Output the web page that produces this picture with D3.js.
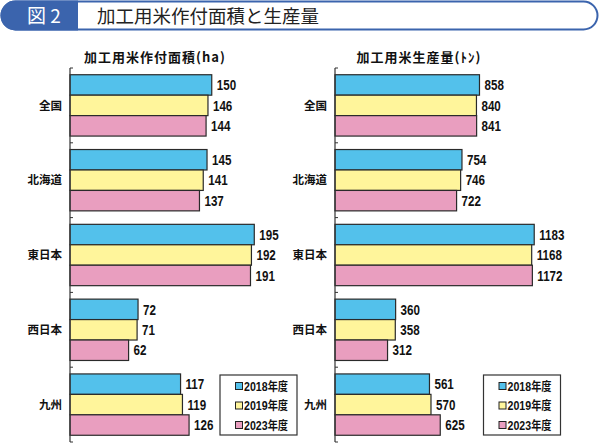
<!DOCTYPE html>
<html><head><meta charset="utf-8">
<script src="https://cdn.jsdelivr.net/npm/d3@7"></script>
<style>
html,body{margin:0;padding:0;background:#fff;}
svg{display:block;}
.cjk{font-family:"Noto Sans CJK JP","Noto Sans",sans-serif;}
.num{font-family:"Liberation Sans","Arial",sans-serif;font-weight:bold;}
</style>
</head><body>
<script>
const categories = ["全国","北海道","東日本","西日本","九州"];
const seriesNames = ["2018年度","2019年度","2023年度"];
const seriesColors = ["#53c1eb","#fff59b","#e99ebf"];
const areaValues = [
  [150,146,144],
  [145,141,137],
  [195,192,191],
  [72,71,62],
  [117,119,126]
];
const prodValues = [
  [858,840,841],
  [754,746,722],
  [1183,1168,1172],
  [360,358,312],
  [561,570,625]
];
const mainTitle = "加工用米作付面積と生産量";
const figLabel = "図 2";
const areaTitle = "加工用米作付面積(ha)";
const prodTitle = "加工用米生産量(ﾄﾝ)";

const W = 600, H = 445;
const svg = d3.select("body").append("svg").attr("width", W).attr("height", H);

// header
const hdrColor = "#3b64ad";
svg.append("rect").attr("x",1.5).attr("y",1.5).attr("width",596).attr("height",28)
  .attr("rx",14).attr("fill","#fff").attr("stroke",hdrColor).attr("stroke-width",2);
svg.append("path").attr("d","M78,0.5 H15.5 A15,15 0 0 0 15.5,30.5 H78 Z").attr("fill",hdrColor);
svg.append("text").attr("class","cjk").attr("x",27).attr("y",23).attr("fill","#fff")
  .attr("font-size",19).text(figLabel);
svg.append("text").attr("class","cjk").attr("x",97).attr("y",23).attr("fill","#222")
  .attr("font-size",18.5).text(mainTitle);

const SX = 0.8;
function drawPanel(cfg) {
  const g = svg.append("g");
  const y = d3.scaleBand().domain(categories).range([68, 442]).paddingInner(0.18).paddingOuter(0.09);
  const ys = d3.scaleBand().domain(seriesNames).range([0, y.bandwidth()]);
  const x = d3.scaleLinear().domain([0, cfg.max]).range([cfg.x0, cfg.x1]);

  // title
  g.append("text").attr("class","cjk").attr("x",cfg.titleX).attr("y",62)
    .attr("text-anchor","middle").attr("font-size",13).attr("font-weight","bold")
    .attr("letter-spacing",1).attr("fill","#111").text(cfg.title);

  // bars
  categories.forEach((c, i) => {
    const grp = g.append("g").attr("transform", `translate(0,${y(c)})`);
    seriesNames.forEach((s, j) => {
      const v = cfg.values[i][j];
      grp.append("rect").attr("x", x(0)).attr("y", ys(s))
        .attr("width", x(v) - x(0)).attr("height", ys.bandwidth())
        .attr("fill", seriesColors[j]).attr("stroke","#2a2a2a").attr("stroke-width",1.2);
      grp.append("text").attr("class","num")
        .attr("transform", `translate(${x(v) + 5},${ys(s) + ys.bandwidth()/2}) scale(${SX},1)`)
        .attr("dy","0.36em")
        .attr("font-size",14.5).attr("fill","#111").text(v);
    });
    g.append("text").attr("class","cjk").attr("x", x(0) - 8)
      .attr("y", y(c) + y.bandwidth()/2).attr("dy","0.36em")
      .attr("text-anchor","end").attr("font-size",11.5).attr("font-weight","bold")
      .attr("fill","#111").text(c);
  });

  // axis
  const step = y.step();
  const bounds = categories.map(c => y(c) - step * y.paddingInner()/2);
  bounds.push(y(categories[categories.length-1]) + y.bandwidth() + step * y.paddingInner()/2);
  g.append("line").attr("x1", x(0)).attr("x2", x(0)).attr("y1", bounds[0]).attr("y2", bounds[bounds.length-1])
    .attr("stroke","#333").attr("stroke-width",1.2);
  bounds.forEach(b => {
    g.append("line").attr("x1", x(0)).attr("x2", x(0)+3).attr("y1", b).attr("y2", b)
      .attr("stroke","#333").attr("stroke-width",1);
  });

  // legend
  const lg = g.append("g").attr("transform", `translate(${cfg.legX},375)`);
  lg.append("rect").attr("x",0).attr("y",0).attr("width",77).attr("height",60)
    .attr("fill","#fff").attr("stroke","#333").attr("stroke-width",1.2);
  seriesNames.forEach((s, j) => {
    const yy = 11 + j * 19.5;
    lg.append("rect").attr("x",15.5).attr("y",yy-3.5).attr("width",7).attr("height",7)
      .attr("fill",seriesColors[j]).attr("stroke","#222").attr("stroke-width",1);
    lg.append("text").attr("transform", `translate(24,${yy}) scale(0.85,1)`).attr("dy","0.36em")
      .attr("font-size",12.5).attr("fill","#111")
      .html(`<tspan class="num">${s.slice(0,4)}</tspan><tspan class="cjk" font-weight="bold" font-size="12">${s.slice(4)}</tspan>`);
  });
}

drawPanel({values: areaValues, max: 250, x0: 70, x1: 70 + 250*0.945, title: areaTitle, titleX: 155, legX: 220});
drawPanel({values: prodValues, max: 1500, x0: 335, x1: 335 + 1500*0.1684, title: prodTitle, titleX: 419, legX: 483.5});
</script>
</body></html>
